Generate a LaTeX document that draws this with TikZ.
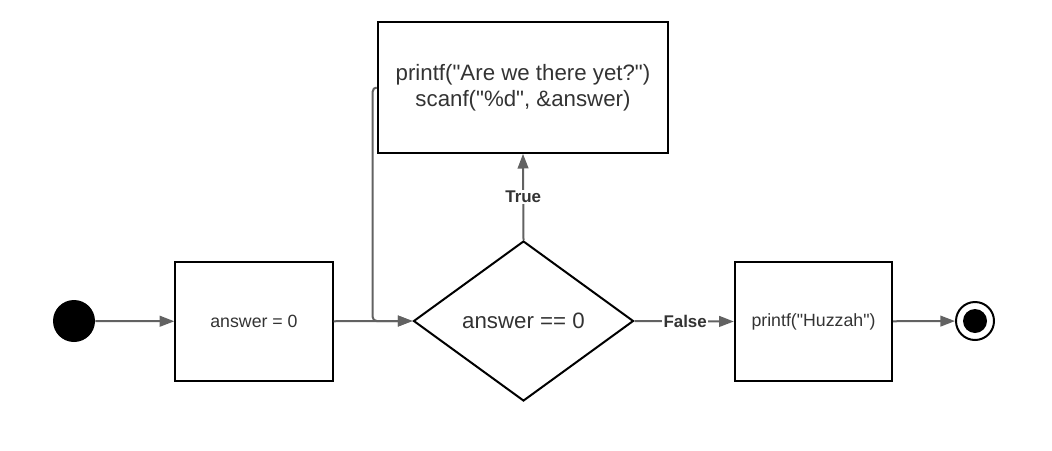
\documentclass[tikz,border=0pt]{standalone}
\usepackage{fontspec}
\setmainfont{Liberation Sans}
\usetikzlibrary{arrows.meta,shapes.geometric}

\definecolor{linegray}{RGB}{98,98,98}
\definecolor{textgray}{RGB}{51,51,51}

\newcommand{\qt}{\textquotedbl}

\tikzset{
  stepbox/.style={draw=black, line width=1.5pt, minimum width=118pt, minimum height=89pt,
    text=textgray, font=\fontsize{13.3}{16}\selectfont, align=center},
  bigbox/.style={stepbox, minimum width=218pt, minimum height=98pt,
    font=\fontsize{16.7}{19.5}\selectfont},
  decision/.style={diamond, draw=black, line width=1.5pt, aspect=1.38, inner sep=0pt,
    minimum width=165pt, minimum height=120pt, text=textgray,
    font=\fontsize{16.7}{20}\selectfont},
  flow/.style={draw=linegray, line width=1.5pt, -{Triangle[length=11pt,width=8pt]}},
  guard/.style={fill=white, text=textgray, inner sep=1pt, font=\bfseries\fontsize{12.7}{15}\selectfont}
}

\begin{document}
\begin{tikzpicture}[x=0.75pt, y=-0.75pt]
  \useasboundingbox (0,0) rectangle (1052,450);

  \node[circle, fill=black, minimum size=31.5pt, inner sep=0pt] (start) at (74,321) {};
  \node[stepbox] (init) at (254,321.5) {answer = 0};
  \node[decision] (test) at (523.5,321) {answer == 0};
  \node[bigbox] (ask) at (523,87.5) {printf(\qt Are we there yet?\qt)\\scanf(\qt\%d\qt, \&answer)};
  \node[stepbox] (done) at (813.5,321.5) {printf(\qt Huzzah\qt)};
  \node[circle, draw=black, line width=1.5pt, minimum size=28.5pt, inner sep=0pt] (stop) at (975,321) {};
  \fill[black] (stop) circle[radius=9pt];

  % connectors
  \draw[flow] (start) -- (init);
  \draw[flow] (init) -- (test.west);
  \draw[flow, rounded corners=3pt] (ask.west) -- ++(-4,0) |- (test.west);
  \draw[flow] (test.north) -- node[guard] {True} (ask.south);
  \draw[flow] (test.east) -- node[guard, pos=0.51] {False} (done.west);
  \draw[flow] (done) -- (stop);
\end{tikzpicture}
\end{document}
